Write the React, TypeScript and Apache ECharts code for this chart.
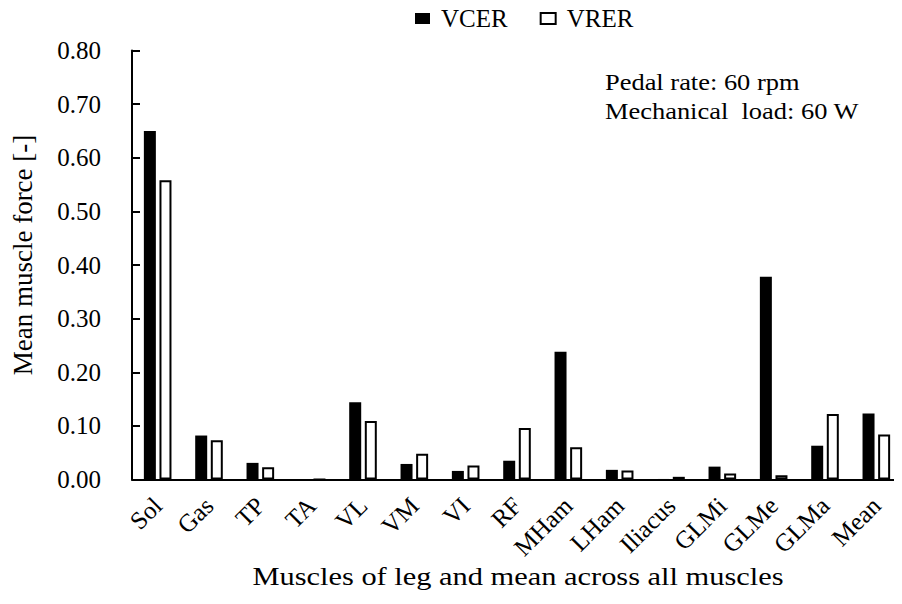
import React, { useEffect, useRef } from "react";
import * as echarts from "echarts";

// Muscles (plus the overall mean) shown along the category axis
const muscles = [
  "Sol", "Gas", "TP", "TA", "VL", "VM", "VI", "RF",
  "MHam", "LHam", "Iliacus", "GLMi", "GLMe", "GLMa", "Mean",
];

// Mean muscle force per muscle for each model
const vcer = [0.65, 0.082, 0.031, 0.0, 0.144, 0.029, 0.016, 0.035, 0.238, 0.018, 0.001, 0.024, 0.378, 0.063, 0.123];
const vrer = [0.558, 0.073, 0.023, 0.0, 0.109, 0.048, 0.026, 0.096, 0.06, 0.017, 0.005, 0.011, 0.008, 0.122, 0.084];

const yMin = 0;
const yMax = 0.8;
const yStep = 0.1;

const FONT = "Liberation Serif";

export default function App() {
  const ref = useRef<HTMLDivElement>(null);

  useEffect(() => {
    if (!ref.current) return;
    const chart = echarts.init(ref.current, null, { renderer: "svg" });
    chart.setOption({
      animation: false,
      backgroundColor: "#ffffff",
      textStyle: { fontFamily: FONT, color: "#000" },
      legend: {
        left: 410,
        top: 1,
        itemWidth: 15,
        itemHeight: 11,
        itemGap: 32,
        textStyle: { fontFamily: FONT, fontSize: 25, color: "#000", padding: [0, 0, 0, 6] },
        data: [
          { name: "VCER", icon: "rect", itemStyle: { color: "#000", borderWidth: 0 } },
          { name: "VRER", icon: "rect", itemStyle: { color: "#fff", borderColor: "#000", borderWidth: 2 } },
        ],
      },
      grid: { left: 132, top: 50.5, width: 775, bottom: 124.5, containLabel: false },
      xAxis: {
        type: "category",
        data: muscles,
        boundaryGap: true,
        z: 5,
        axisLine: { lineStyle: { color: "#000", width: 2 } },
        axisTick: { inside: true, length: 7, interval: 0, alignWithLabel: false, lineStyle: { color: "#000", width: 2 } },
        axisLabel: {
          interval: 0,
          rotate: 45,
          margin: 22,
          fontFamily: FONT,
          fontSize: 25,
          color: "#000",
        },
        splitLine: { show: false },
      },
      yAxis: {
        type: "value",
        min: yMin,
        max: yMax,
        interval: yStep,
        axisLine: { show: true, lineStyle: { color: "#000", width: 2 } },
        axisTick: { show: true, inside: true, length: 8, lineStyle: { color: "#000", width: 2 } },
        axisLabel: {
          margin: 31,
          fontFamily: FONT,
          fontSize: 25,
          color: "#000",
          formatter: (v: number) => v.toFixed(2),
        },
        splitLine: { show: false },
      },
      series: [
        {
          name: "VCER",
          type: "bar",
          data: vcer,
          barWidth: 12,
          barGap: "30%",
          itemStyle: { color: "#000" },
        },
        {
          name: "VRER",
          type: "bar",
          data: vrer,
          barWidth: 12,
          itemStyle: { color: "#fff", borderColor: "#000", borderWidth: 2 },
        },
      ],
      graphic: [
        {
          type: "text",
          x: 23,
          y: 255,
          rotation: Math.PI / 2,
          style: {
            text: "Mean muscle force [-]",
            fontFamily: FONT,
            fontSize: 27,
            fill: "#000",
            textAlign: "center",
            textVerticalAlign: "middle",
          },
        },
        {
          type: "text",
          x: 518,
          y: 576,
          scaleX: 1.17,
          style: {
            text: "Muscles of leg and mean across all muscles",
            fontFamily: FONT,
            fontSize: 26,
            fill: "#000",
            textAlign: "center",
            textVerticalAlign: "middle",
          },
        },
        {
          type: "text",
          x: 605,
          y: 82,
          scaleX: 1.15,
          style: {
            text: "Pedal rate: 60 rpm",
            fontFamily: FONT,
            fontSize: 23,
            fill: "#000",
            textAlign: "left",
            textVerticalAlign: "middle",
          },
        },
        {
          type: "text",
          x: 605,
          y: 111,
          scaleX: 1.15,
          style: {
            text: "Mechanical  load: 60 W",
            fontFamily: FONT,
            fontSize: 23,
            fill: "#000",
            textAlign: "left",
            textVerticalAlign: "middle",
          },
        },
      ],
    });
    return () => chart.dispose();
  }, []);

  return <div ref={ref} style={{ width: 902, height: 604, margin: -8 }} />;
}
